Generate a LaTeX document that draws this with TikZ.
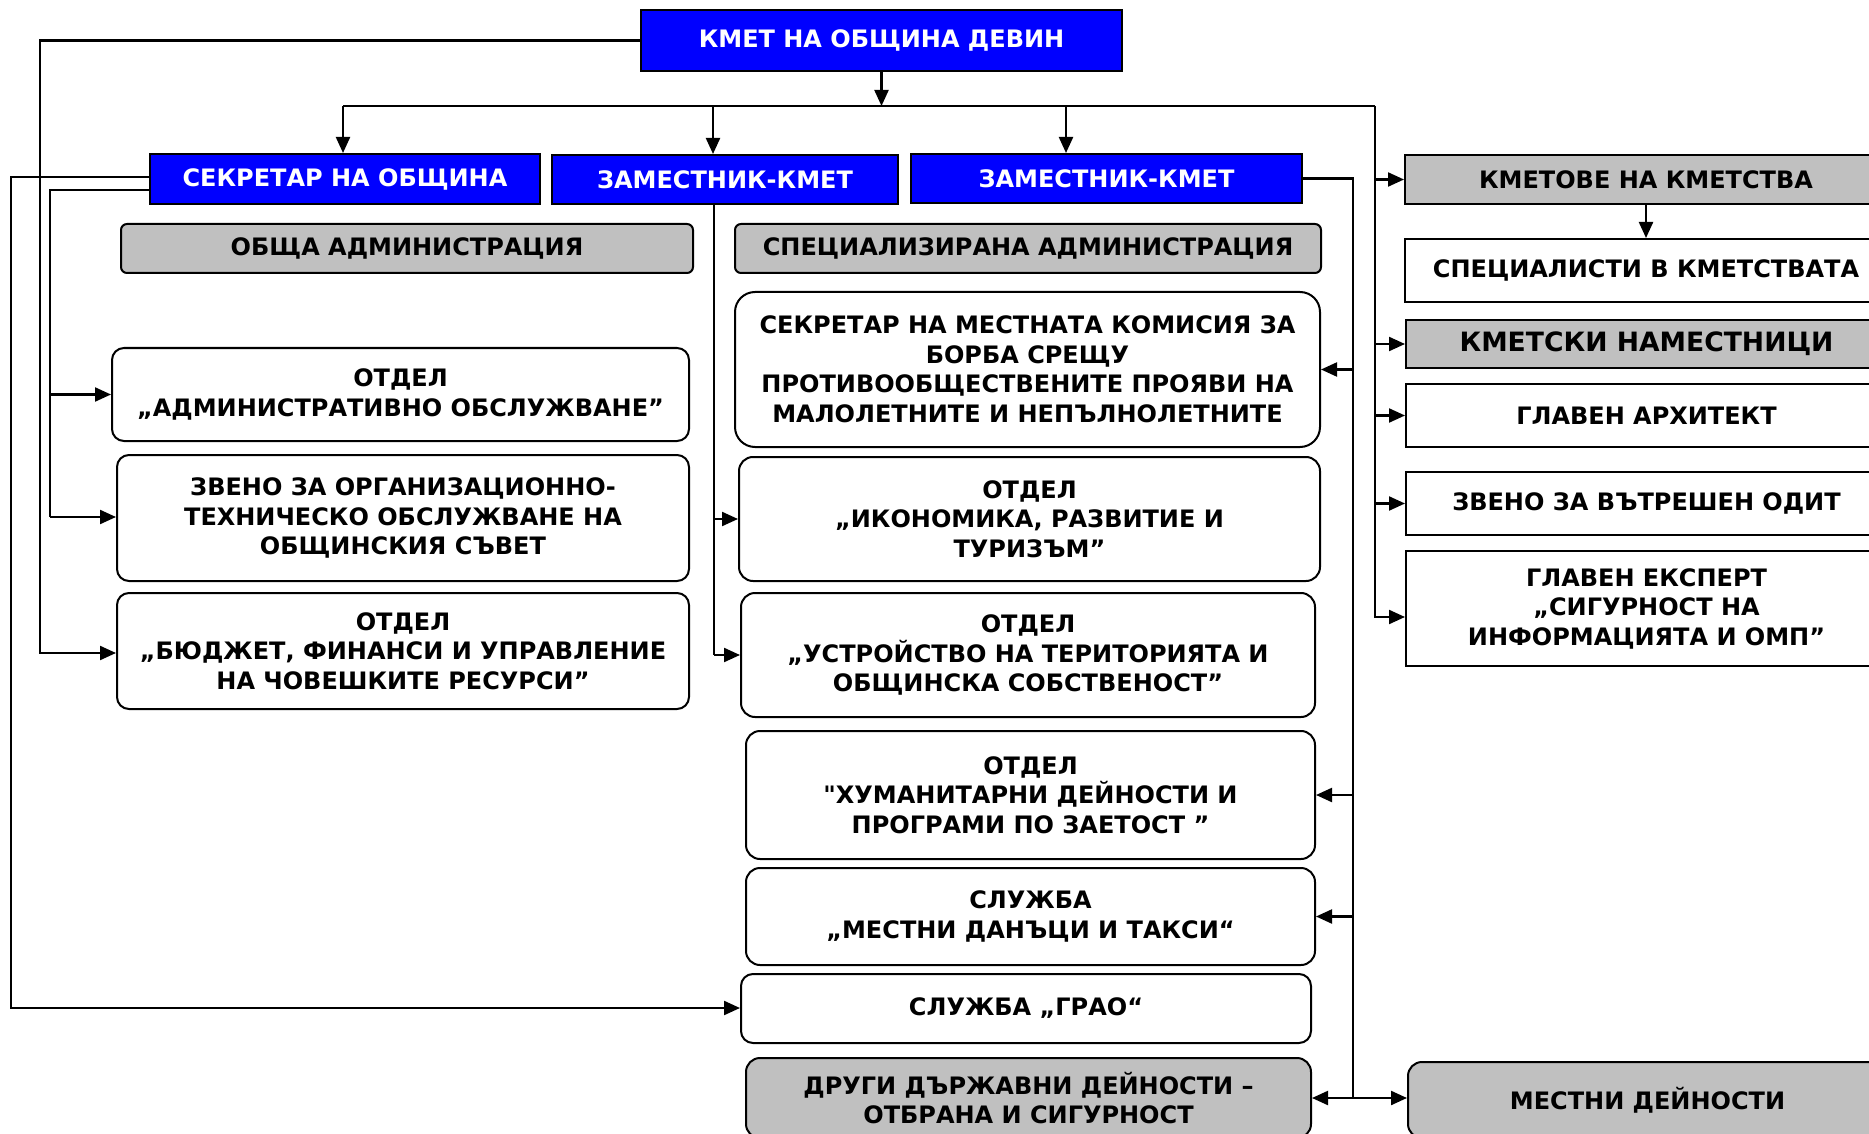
\documentclass[tikz,border=0pt]{standalone}
\usepackage{fontspec}
\setmainfont{DejaVu Sans}[Ligatures=TeXOff]
\usetikzlibrary{arrows.meta}
\definecolor{myblue}{RGB}{0,0,255}
\definecolor{mygray}{RGB}{192,192,192}
\begin{document}
\begin{tikzpicture}[x=0.5pt,y=-0.5pt,
  box/.style={draw=black, line width=1pt, inner sep=0pt, align=center,
    font=\fontsize{12}{14.75}\selectfont\bfseries},
  bluebox/.style={box, fill=myblue, text=white},
  graybox/.style={box, fill=mygray},
  whitebox/.style={box, fill=white},
  conn/.style={line width=1.1pt},
  arr/.style={conn, -{Triangle[length=8pt,width=7pt]}},
  darr/.style={conn, {Triangle[length=8pt,width=7pt]}-{Triangle[length=8pt,width=7pt]}},
]
\clip (0,0) rectangle (1869,1134);
\fill[white] (0,0) rectangle (1869,1134);

% top level
\node[bluebox, minimum width=240.5pt, minimum height=30.5pt] (kmet) at (881.5,40.5) {КМЕТ НА ОБЩИНА ДЕВИН};
\node[bluebox, minimum width=195pt, minimum height=25pt] (sekr) at (345,179) {СЕКРЕТАР НА ОБЩИНА};
\node[bluebox, minimum width=173pt, minimum height=24.5pt] (zam1) at (725,179.5) {ЗАМЕСТНИК-КМЕТ};
\node[bluebox, minimum width=195.5pt, minimum height=24.5pt] (zam2) at (1106.5,178.5) {ЗАМЕСТНИК-КМЕТ};

% left column
\node[graybox, rounded corners=3pt, minimum width=286pt, minimum height=24.5pt] (obsha) at (407,248.5) {ОБЩА АДМИНИСТРАЦИЯ};
\node[whitebox, rounded corners=6pt, minimum width=288.5pt, minimum height=46.5pt] (admin) at (400.5,394.5) {ОТДЕЛ\\„АДМИНИСТРАТИВНО ОБСЛУЖВАНЕ”};
\node[whitebox, rounded corners=6pt, minimum width=286pt, minimum height=63pt] (zveno) at (403,518) {ЗВЕНО ЗА ОРГАНИЗАЦИОННО-\\ТЕХНИЧЕСКО ОБСЛУЖВАНЕ НА\\ОБЩИНСКИЯ СЪВЕТ};
\node[whitebox, rounded corners=6pt, minimum width=286pt, minimum height=58pt] (budjet) at (403,651) {ОТДЕЛ\\„БЮДЖЕТ, ФИНАНСИ И УПРАВЛЕНИЕ\\НА ЧОВЕШКИТЕ РЕСУРСИ”};

% middle column
\node[graybox, rounded corners=3pt, minimum width=293pt, minimum height=24.5pt] (spec) at (1028,248.5) {СПЕЦИАЛИЗИРАНА АДМИНИСТРАЦИЯ};
\node[whitebox, rounded corners=10pt, minimum width=292.5pt, minimum height=77.5pt] (sekmk) at (1027.5,369.5) {СЕКРЕТАР НА МЕСТНАТА КОМИСИЯ ЗА\\БОРБА СРЕЩУ\\ПРОТИВООБЩЕСТВЕНИТЕ ПРОЯВИ НА\\МАЛОЛЕТНИТЕ И НЕПЪЛНОЛЕТНИТЕ};
\node[whitebox, rounded corners=7pt, minimum width=290.5pt, minimum height=62pt] (ikon) at (1029.5,519) {ОТДЕЛ\\„ИКОНОМИКА, РАЗВИТИЕ И\\ТУРИЗЪМ”};
\node[whitebox, rounded corners=7pt, minimum width=287pt, minimum height=62pt] (ustr) at (1028,655) {ОТДЕЛ\\„УСТРОЙСТВО НА ТЕРИТОРИЯТА И\\ОБЩИНСКА СОБСТВЕНОСТ”};
\node[whitebox, rounded corners=7pt, minimum width=284.5pt, minimum height=64pt] (human) at (1030.5,795) {ОТДЕЛ\\"ХУМАНИТАРНИ ДЕЙНОСТИ И\\ПРОГРАМИ ПО ЗАЕТОСТ ”};
\node[whitebox, rounded corners=7pt, minimum width=284.5pt, minimum height=48.5pt] (danaci) at (1030.5,916.5) {СЛУЖБА\\„МЕСТНИ ДАНЪЦИ И ТАКСИ“};
\node[whitebox, rounded corners=6pt, minimum width=285pt, minimum height=34.5pt] (grao) at (1026,1008.5) {СЛУЖБА „ГРАО“};
\node[graybox, rounded corners=7pt, minimum width=282.5pt, minimum height=40pt] (drugi) at (1028.5,1098) {ДРУГИ ДЪРЖАВНИ ДЕЙНОСТИ –\\ОТБРАНА И СИГУРНОСТ};

% right column
\node[graybox, minimum width=241pt, minimum height=24.5pt] (kmetove) at (1646,179.5) {КМЕТОВЕ НА КМЕТСТВА};
\node[whitebox, minimum width=241pt, minimum height=31.5pt] (spk) at (1646,270.5) {СПЕЦИАЛИСТИ В КМЕТСТВАТА};
\node[graybox, minimum width=240.5pt, minimum height=24pt, font=\fontsize{13.3}{16}\selectfont\bfseries] (namest) at (1646.5,344) {КМЕТСКИ НАМЕСТНИЦИ};
\node[whitebox, minimum width=240.5pt, minimum height=31.5pt] (arhit) at (1646.5,415.5) {ГЛАВЕН АРХИТЕКТ};
\node[whitebox, minimum width=240.5pt, minimum height=31.5pt] (odit) at (1646.5,503.5) {ЗВЕНО ЗА ВЪТРЕШЕН ОДИТ};
\node[whitebox, minimum width=240.5pt, minimum height=57.5pt] (ekspert) at (1646.5,608.5) {ГЛАВЕН ЕКСПЕРТ\\„СИГУРНОСТ НА\\ИНФОРМАЦИЯТА И ОМП”};
\node[graybox, rounded corners=7pt, minimum width=239.5pt, minimum height=38pt] (mestni) at (1647.5,1100) {МЕСТНИ ДЕЙНОСТИ};

% top bus
\coordinate (busL) at (343,106);
\coordinate (busM) at (713,106);
\coordinate (busN) at (1066,106);
\coordinate (busR) at (1375,106);
\draw[conn] (busL) -- (busR);
\draw[arr] (kmet.south) -- (kmet.south |- busL);
\draw[arr] (busL) -- (busL |- sekr.north);
\draw[arr] (busM) -- (busM |- zam1.north);
\draw[arr] (busN) -- (busN |- zam2.north);

% right branch
\draw[arr] (busR) -- (busR |- 0,617) -- (ekspert.west |- 0,617);
\draw[arr] (busR |- kmetove.west) -- (kmetove.west);
\draw[arr] (busR |- namest.west) -- (namest.west);
\draw[arr] (busR |- arhit.west) -- (arhit.west);
\draw[arr] (busR |- odit.west) -- (odit.west);
\draw[arr] (kmetove.south) -- (spk.north);

% mayor to budget
\draw[arr] (kmet.west) -| (40,653) -- (budjet.west |- 0,653);

% secretary lines
\draw[arr] (sekr.west |- 0,177) -| (11,1008) -- (grao.west |- 0,1008);
\draw[conn] (sekr.west |- 0,190) -| (50,517);
\draw[arr] (admin.west -| 50,0) -- (admin.west);
\draw[arr] (50,517) -- (zveno.west |- 0,517);

% deputy 1
\draw[conn] (zam1.south -| 714,0) -- (ustr.west -| 714,0);
\draw[arr] (ikon.west -| 714,0) -- (ikon.west);
\draw[arr] (ustr.west -| 714,0) -- (ustr.west);

% deputy 2
\draw[conn] (zam2.east) -| (drugi.east -| 1353,0);
\draw[arr] (sekmk.east -| 1353,0) -- (sekmk.east);
\draw[arr] (human.east -| 1353,0) -- (human.east);
\draw[arr] (danaci.east -| 1353,0) -- (danaci.east);
\draw[darr] (drugi.east) -- (drugi.east -| mestni.west);
\end{tikzpicture}
\end{document}
